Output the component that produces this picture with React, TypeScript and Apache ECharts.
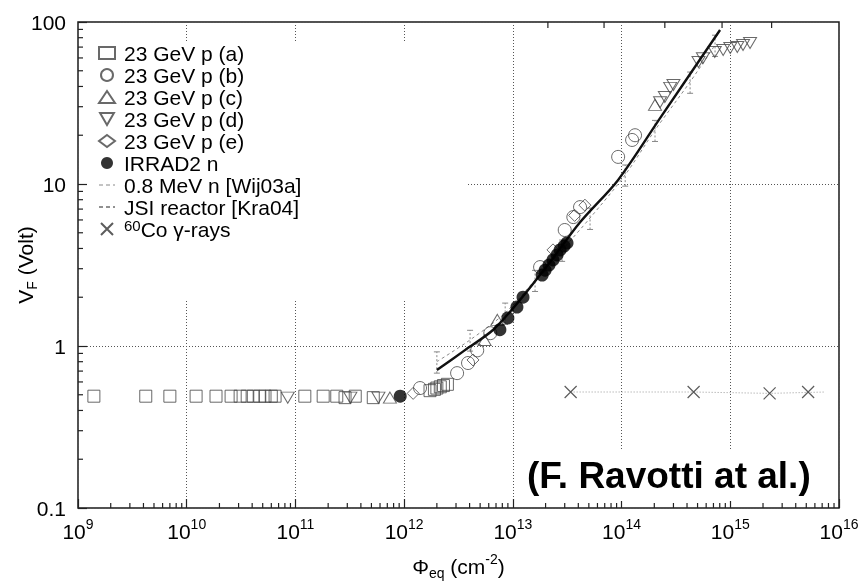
import React, { useEffect, useRef } from "react";
import * as echarts from "echarts";

const FONT = '"Liberation Sans", Arial, Helvetica, sans-serif';

// ---- data (fluence in cm^-2, voltage in V) ----
const seriesNames = [
  "23 GeV p (a)",
  "23 GeV p (b)",
  "23 GeV p (c)",
  "23 GeV p (d)",
  "23 GeV p (e)",
  "IRRAD2 n",
  "0.8 MeV n [Wij03a]",
  "JSI reactor [Kra04]",
  "60Co γ-rays",
];

const pA: number[][] = [
  [1.4e9, 0.49], [4.2e9, 0.49], [7.0e9, 0.49], [1.22e10, 0.49], [1.86e10, 0.49],
  [2.56e10, 0.49], [3.1e10, 0.49], [3.6e10, 0.49], [4.1e10, 0.49], [4.7e10, 0.49],
  [5.25e10, 0.49], [6.0e10, 0.49], [6.5e10, 0.49], [1.22e11, 0.49], [1.8e11, 0.49],
  [2.4e11, 0.49], [2.86e11, 0.48], [3.55e11, 0.49], [5.2e11, 0.48],
  [1.73e12, 0.53], [1.9e12, 0.54], [2.0e12, 0.55], [2.15e12, 0.56], [2.3e12, 0.57], [2.5e12, 0.58],
];
const pB: number[][] = [
  [1.4e12, 0.55], [3.07e12, 0.68], [3.87e12, 0.785], [4.7e12, 0.94], [6.2e12, 1.2],
  [1.78e13, 3.07], [3.0e13, 5.2], [3.6e13, 6.25], [4.15e13, 7.2],
  [9.3e13, 14.7], [1.25e14, 18.7], [1.33e14, 20],
];
const pC: number[][] = [
  [7.4e11, 0.48], [5.5e12, 1.09], [7.2e12, 1.45], [2.03e14, 30.8],
];
const pD: number[][] = [
  [8.5e10, 0.48], [3.2e11, 0.48], [5.8e11, 0.48],
  [2.26e14, 32], [2.5e14, 34.4], [2.8e14, 39.2], [3.0e14, 40.8],
  [5.1e14, 56.6], [5.6e14, 59.8], [7.2e14, 65.3], [8.6e14, 67.2],
  [1.0e15, 69.1], [1.16e15, 70.1], [1.31e15, 72.1], [1.52e15, 74.2],
];
const pE: number[][] = [
  [1.21e12, 0.51], [4.3e12, 0.82], [2.34e13, 3.92], [3.7e13, 6.4], [4.6e13, 7.4],
];
const irrad: number[][] = [
  [9.2e11, 0.49], [7.6e12, 1.26], [9.0e12, 1.49], [1.09e13, 1.74], [1.24e13, 2.0],
  [1.86e13, 2.74], [1.98e13, 2.94], [2.15e13, 3.16], [2.34e13, 3.4], [2.55e13, 3.65],
  [2.72e13, 3.92], [2.96e13, 4.14], [3.15e13, 4.33],
];
const mev08: number[][] = [
  [2.0e12, 0.8], [4.04e12, 1.09], [8.5e12, 1.6], [1.6e13, 2.55], [2.84e13, 3.92],
  [5.13e13, 6.17], [1.08e14, 11.4], [2.03e14, 21.5], [4.27e14, 42.7], [7.24e14, 72.1],
];
// [fluence, low, high]
const mev08Err: number[][] = [
  [2.0e12, 0.68, 0.92], [4.04e12, 0.93, 1.25], [8.5e12, 1.36, 1.84], [1.6e13, 2.17, 2.93],
  [2.84e13, 3.33, 4.51], [5.13e13, 5.24, 7.1], [1.08e14, 9.7, 13.1], [2.03e14, 18.3, 24.7],
  [4.27e14, 36.3, 49.1], [7.24e14, 61.3, 82.9],
];
const jsi: number[][] = [
  [2.0e12, 0.71], [3.6e12, 0.94], [6.6e12, 1.26], [1.16e13, 1.92], [2.2e13, 3.3],
  [4.15e13, 5.8], [9.3e13, 10.6], [2.26e14, 25.5], [8.05e14, 89.3],
];
const co60: number[][] = [
  [3.4e13, 0.52], [4.6e14, 0.52], [2.3e15, 0.51], [5.2e15, 0.52],
];
const co60Line: number[][] = [
  [3.4e13, 0.52], [4.6e14, 0.52], [2.3e15, 0.51], [7.5e15, 0.52],
];

// ---- axes / ticks ----
const xDecades = [9, 10, 11, 12, 13, 14, 15];
const yDecades = [-1, 0, 1];
const minorMult = [2, 3, 4, 5, 6, 7, 8, 9];
const topTicks = [2.1e13, 6.9e13, 2.5e14, 8.4e14, 2.4e15];

const xMinor: number[] = [];
xDecades.forEach((d) => minorMult.forEach((m) => xMinor.push(m * Math.pow(10, d))));
const yMinor: number[] = [];
yDecades.forEach((d) => minorMult.forEach((m) => yMinor.push(m * Math.pow(10, d))));

const X_MIN = 1e9, X_MAX = 1e16, Y_MIN = 0.1, Y_MAX = 100;

const hollow = (c: string) => ({ color: "rgba(0,0,0,0)", borderColor: c, borderWidth: 1 });
const tri_down = "path://M0,0 L12,0 L6,10.4 Z";
const crossSym = "path://M0,0 L10,10 M10,0 L0,10";

function tickSeries(name: string, data: number[][], kind: "bottom" | "left" | "top", len: number) {
  return {
    type: "custom",
    name,
    silent: true,
    z: 3,
    data,
    renderItem: (_p: any, api: any) => {
      const p = api.coord([api.value(0), api.value(1)]);
      let shape;
      if (kind === "bottom") shape = { x1: p[0], y1: p[1], x2: p[0], y2: p[1] - len };
      else if (kind === "top") shape = { x1: p[0], y1: p[1], x2: p[0], y2: p[1] + len };
      else shape = { x1: p[0], y1: p[1], x2: p[0] + len, y2: p[1] };
      return { type: "line", shape, style: { stroke: "#222", lineWidth: 1.2 } };
    },
  };
}

export default function App() {
  const ref = useRef<HTMLDivElement>(null);
  useEffect(() => {
    const chart = echarts.init(ref.current!, null, { renderer: "svg" });
    const supRich = {
      b: { fontSize: 21, lineHeight: 28, verticalAlign: "middle", fontFamily: FONT, color: "#000" },
      s: { fontSize: 14, lineHeight: 16, verticalAlign: "top", fontFamily: FONT, color: "#000" },
    };
    const noSym = { color: "rgba(0,0,0,0)", borderColor: "rgba(0,0,0,0)", opacity: 0 };
    const option: any = {
      animation: false,
      textStyle: { fontFamily: FONT, color: "#000" },
      grid: {
        left: 78, top: 22, width: 761, height: 486,
        outerBoundsMode: "none",
        containLabel: false,
        show: true, borderColor: "#1a1a1a", borderWidth: 1.5, backgroundColor: "transparent",
      },
      title: {
        text: "(F. Ravotti at al.)",
        left: 520, top: 450,
        backgroundColor: "#fff",
        padding: [2, 8, 2, 7],
        textStyle: { fontFamily: FONT, fontWeight: "bold", fontSize: 37, lineHeight: 47, color: "#000" },
      },
      legend: {
        orient: "vertical",
        left: 87, top: 42,
        padding: [0, 0, 60, 11],
        itemGap: 0,
        itemWidth: 16, itemHeight: 12,
        backgroundColor: "#fff",
        selectedMode: false,
        data: [
          seriesNames[0], seriesNames[1], seriesNames[2], seriesNames[3], seriesNames[4], seriesNames[5],
          { name: seriesNames[6], lineStyle: { type: [4, 3], width: 1, color: "#888" }, itemStyle: noSym },
          { name: seriesNames[7], lineStyle: { type: [4, 3], width: 1, color: "#222" }, itemStyle: noSym },
          seriesNames[8],
        ],
        formatter: (n: string) => (n === seriesNames[8] ? "{sup|60}Co γ-rays" : n),
        textStyle: {
          fontFamily: FONT, fontSize: 21, lineHeight: 22, color: "#000", width: 342,
          padding: [0, 0, 0, 4],
          rich: { sup: { fontSize: 15, lineHeight: 12, verticalAlign: "top", fontFamily: FONT, color: "#000" } },
        },
      },
      xAxis: {
        type: "log", logBase: 10, min: X_MIN, max: X_MAX, splitNumber: 7,
        axisLine: { show: false },
        axisTick: { show: true, inside: true, length: 9, lineStyle: { color: "#222", width: 1.2 } },
        axisLabel: {
          margin: 9,
          formatter: (v: number) => `{b|10}{s|${Math.round(Math.log10(v))}}`,
          rich: supRich,
        },
        splitLine: { show: true, lineStyle: { color: "#555", type: [1, 2], width: 1 } },
        name: "{b|Φ}{sub|eq}{b| (cm}{s|-2}{b|)}",
        nameLocation: "middle",
        nameGap: 44,
        nameMoveOverlap: false,
        nameTextStyle: {
          rich: {
            ...supRich,
            sub: { fontSize: 14, lineHeight: 16, verticalAlign: "bottom", fontFamily: FONT, color: "#000" },
          },
        },
      },
      yAxis: {
        type: "log", logBase: 10, min: Y_MIN, max: Y_MAX, splitNumber: 3,
        axisLine: { show: false },
        axisTick: { show: true, inside: true, length: 9, lineStyle: { color: "#222", width: 1.2 } },
        axisLabel: {
          margin: 12, fontSize: 21, color: "#000", fontFamily: FONT,
          formatter: (v: number) => {
            const e = Math.round(Math.log10(v));
            return e < 0 ? "0.1" : String(Math.pow(10, e));
          },
        },
        splitLine: { show: true, lineStyle: { color: "#555", type: [1, 2], width: 1 } },
        name: "{b|V}{sub|F}{b| (Volt)}",
        nameLocation: "middle",
        nameGap: 39,
        nameMoveOverlap: false,
        nameTextStyle: {
          rich: {
            b: { fontSize: 21, lineHeight: 28, verticalAlign: "middle", fontFamily: FONT, color: "#000" },
            sub: { fontSize: 14, lineHeight: 16, verticalAlign: "bottom", fontFamily: FONT, color: "#000" },
          },
        },
      },
      series: [
        tickSeries("xMinorTicks", xMinor.map((v) => [v, Y_MIN]), "bottom", 5),
        tickSeries("yMinorTicks", yMinor.map((v) => [X_MIN, v]), "left", 5),
        tickSeries("topTicks", topTicks.map((v) => [v, Y_MAX]), "top", 6),
        {
          type: "line", name: "co60Line", data: co60Line, symbol: "none",
          lineStyle: { color: "#999", width: 1, type: [1, 2] },
          z: 2,
        },
        {
          type: "scatter", name: seriesNames[8], data: co60,
          symbol: crossSym, symbolSize: 12,
          itemStyle: { color: "rgba(0,0,0,0)", borderColor: "#333", borderWidth: 1.2 },
          z: 2,
        },
        {
          type: "line", name: seriesNames[6], data: mev08, symbol: "none", smooth: 0.3,
          lineStyle: { color: "#888", width: 1, type: [3, 3] },
          itemStyle: { color: "#888" },
          z: 2,
        },
        {
          type: "custom", name: "mevErr", silent: true, z: 2, data: mev08Err,
          encode: { x: 0, y: [1, 2] },
          renderItem: (_p: any, api: any) => {
            const a = api.coord([api.value(0), api.value(1)]);
            const b = api.coord([api.value(0), api.value(2)]);
            const st = { stroke: "#888", lineWidth: 1 };
            return {
              type: "group",
              children: [
                { type: "line", shape: { x1: a[0], y1: a[1], x2: b[0], y2: b[1] }, style: { ...st, lineDash: [2, 2] } },
                { type: "line", shape: { x1: a[0] - 3, y1: a[1], x2: a[0] + 3, y2: a[1] }, style: st },
                { type: "line", shape: { x1: b[0] - 3, y1: b[1], x2: b[0] + 3, y2: b[1] }, style: st },
              ],
            };
          },
        },
        {
          type: "line", name: seriesNames[7], data: jsi, symbol: "none", smooth: 0.3,
          lineStyle: { color: "#111", width: 2.4 },
          itemStyle: { color: "#111" },
          z: 3,
        },
        { type: "scatter", name: seriesNames[0], data: pA, symbol: "rect", symbolSize: 12, itemStyle: hollow("#444") },
        { type: "scatter", name: seriesNames[1], data: pB, symbol: "circle", symbolSize: 13, itemStyle: hollow("#444") },
        { type: "scatter", name: seriesNames[2], data: pC, symbol: "triangle", symbolSize: [13, 11], itemStyle: hollow("#444") },
        { type: "scatter", name: seriesNames[3], data: pD, symbol: tri_down, symbolSize: [13, 11], itemStyle: hollow("#444") },
        { type: "scatter", name: seriesNames[4], data: pE, symbol: "diamond", symbolSize: 12, itemStyle: hollow("#444") },
        { type: "scatter", name: seriesNames[5], data: irrad, symbol: "circle", symbolSize: 13, itemStyle: { color: "#000" }, z: 4 },
      ],
    };
    chart.setOption(option);
    return () => chart.dispose();
  }, []);
  return <div ref={ref} style={{ position: "fixed", left: 0, top: 0, width: 864, height: 582 }} />;
}
